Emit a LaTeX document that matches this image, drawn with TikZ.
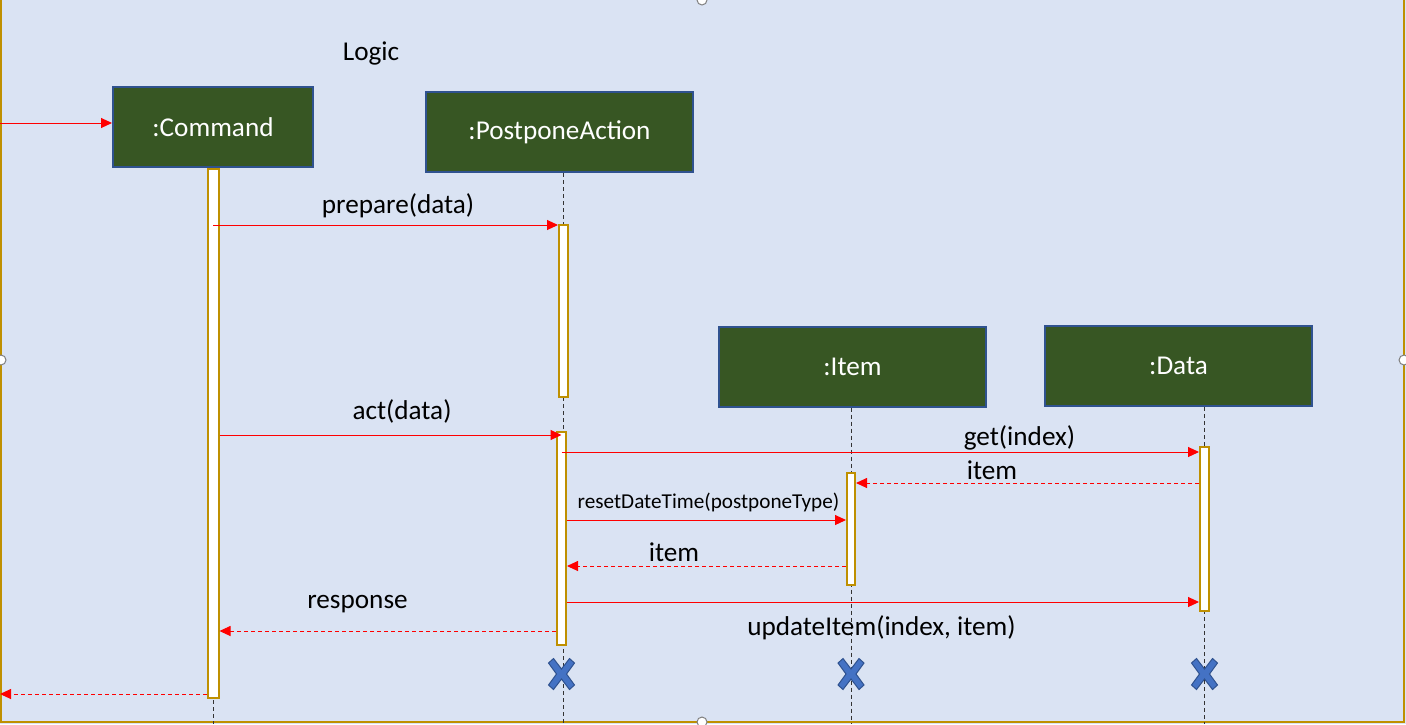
\documentclass[tikz,border=0pt]{standalone}
\usepackage{fontspec}
\setmainfont{Carlito}
\usetikzlibrary{positioning,arrows.meta}
\definecolor{bgblue}{HTML}{DAE3F3}
\definecolor{framegold}{HTML}{BF9000}
\definecolor{boxgreen}{HTML}{375623}
\definecolor{boxedge}{HTML}{2F528F}
\definecolor{xblue}{HTML}{4472C4}
\tikzset{
    killx/.pic={\filldraw[fill=xblue,draw=boxedge,line width=0.5pt]
        (-13,-11) -- (-8,-15.5) -- (0,-5) -- (8,-15.5) -- (13,-11) -- (5,0) --
        (13,11) -- (8,15.5) -- (0,5) -- (-8,15.5) -- (-13,11) -- (-5,0) -- cycle;}
}
\begin{document}
\begin{tikzpicture}[x=0.5pt,y=-0.5pt,
        actor/.style={draw=boxedge,fill=boxgreen,line width=1pt,text=white,
            minimum height=40pt,font=\fontsize{13.6}{16}\selectfont},
        bar/.style={draw=framegold,fill=white,line width=1pt,minimum width=4.5pt,inner sep=0pt},
        lifeline/.style={draw=black!80,line width=0.5pt,dash pattern=on 2pt off 1.5pt},
        msg/.style={draw=red,line width=0.5pt,-{Triangle[length=5.5pt,width=5pt]}},
        reply/.style={msg,dash pattern=on 2pt off 1.5pt},
        lbl/.style={inner sep=0pt,font=\fontsize{13.6}{16}\selectfont}]
        \useasboundingbox (0,0) rectangle (1406,724);
        \fill[bgblue] (0,0) rectangle (1406,724);
        \draw[framegold,line width=1pt] (1,0) -- (1,722) -- (1404,722) -- (1404,0);
        \foreach \p in {(702,0),(1,360),(1404,360),(702,722)}
            \draw[gray,fill=white,line width=0.5pt] \p circle (2.5pt);

        % lifeline heads
        \node[actor,minimum width=100pt] (command) at (213,127) {:Command};
        \node[actor,minimum width=133.5pt] (postpone) at (559.5,132) {\raisebox{-1.5pt}{:PostponeAction}};
        \node[actor,minimum width=133.5pt] (item) at (852.5,366.5) {:Item};
        \node[actor,minimum width=133.5pt] (data) at (1178.5,366) {:Data};
        \coordinate (bottom) at (0,724);

        \draw[lifeline] (command.south) -- (command.south |- bottom);
        \draw[lifeline] ([xshift=2pt]postpone.south) -- ([xshift=2pt]postpone.south |- bottom);
        \draw[lifeline] ([xshift=-0.75pt]item.south) -- ([xshift=-0.75pt]item.south |- bottom);
        \draw[lifeline] ([xshift=12.75pt]data.south) -- ([xshift=12.75pt]data.south |- bottom);

        % activation bars
        \node[bar,below=0pt of command,minimum width=5.5pt,minimum height=264.5pt] (cmdbar) {};
        \node[bar,anchor=north,minimum height=86pt] (prepbar) at (563.5,224) {};
        \node[bar,anchor=north,minimum height=106.5pt] (actbar) at (561.5,431) {};
        \node[bar,anchor=north,minimum width=4pt,minimum height=56pt] (itembar) at (851,472) {};
        \node[bar,anchor=north,minimum height=82pt] (databar) at (1204.5,446) {};

        % messages
        \coordinate (caller) at (0,123);
        \coordinate (callerret) at (0,694);
        \draw[msg] (caller) -- (command.west |- caller);
        \draw[msg] (cmdbar.center |- 0,225) -- (prepbar.west |- 0,225);
        \draw[msg] (cmdbar.east |- 0,435) -- (actbar.center |- 0,435);
        \draw[msg] (actbar.center |- 0,452) -- (databar.west |- 0,452);
        \draw[reply] (databar.west |- 0,483) -- (itembar.east |- 0,483);
        \draw[msg] (actbar.east |- 0,520) -- (itembar.west |- 0,520);
        \draw[reply] (itembar.west |- 0,566) -- (actbar.east |- 0,566);
        \draw[msg] (actbar.east |- 0,602) -- (databar.west |- 0,602);
        \draw[reply] (actbar.west |- 0,631) -- (cmdbar.east |- 0,631);
        \draw[reply] (cmdbar.west |- callerret) -- (callerret);

        % labels
        \node[lbl] (logic) at (371,53) {Logic};
        \node[lbl] (prepare) at (398,206) {prepare(data)};
        \node[lbl] (act) at (402,411) {act(data)};
        \node[lbl] (get) at (1019.5,438) {get(index)};
        \node[lbl] (itemback) at (992,470) {item};
        \node[lbl,font=\fontsize{10.6}{13}\selectfont] (reset) at (708.5,502) {resetDateTime(postponeType)};
        \node[lbl] (itemret) at (674,552) {item};
        \node[lbl] (response) at (357.5,604) {response};
        \node[lbl] (update) at (881.5,628) {updateItem(index, item)};

        % destruction marks
        \foreach \who in {actbar,itembar,databar}
            \pic at (\who.south |- 0,674) {killx};
    \end{tikzpicture}
\end{document}
